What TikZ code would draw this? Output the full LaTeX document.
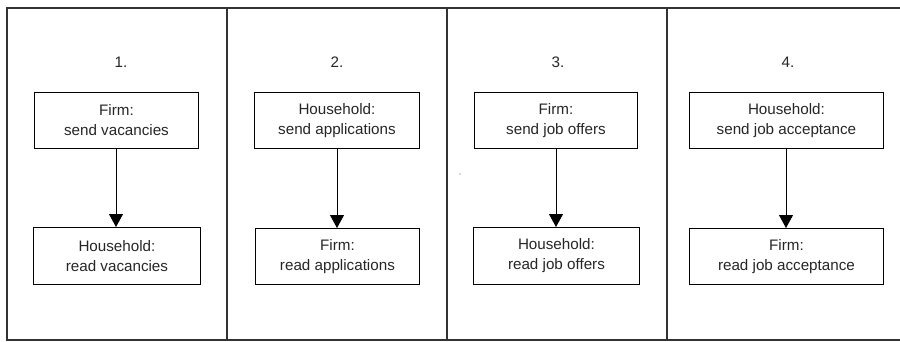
\documentclass[tikz,border=0pt]{standalone}
\usepackage{fontspec}
\setmainfont{Liberation Sans}
\usetikzlibrary{arrows.meta}
\begin{document}
\begin{tikzpicture}[x=1pt,y=-1pt,
  frame/.style={draw=black!80,line width=1.1pt},
  stepbox/.style={draw=black,line width=0.9pt,rectangle,inner sep=0pt,align=center,
    font=\fontsize{15.2}{20}\selectfont,text=black!85,anchor=north west},
  numlabel/.style={font=\fontsize{15.2}{18}\selectfont,text=black!85},
  flow/.style={draw=black,line width=0.9pt,-{Triangle[length=13pt,width=14pt]}}]
\useasboundingbox (0,0) rectangle (900,341);
\begin{scope}
\clip (0,0) rectangle (900,341);
\draw[frame] (7,8) rectangle (910,340);
\end{scope}
\draw[frame] (227,8) -- (227,340);
\draw[frame] (447,8) -- (447,340);
\draw[frame] (667,8) -- (667,340);
% labels
\node[numlabel] (n1) at (121,62) {1.};
\node[numlabel] (n2) at (337,62) {2.};
\node[numlabel] (n3) at (558,62) {3.};
\node[numlabel] (n4) at (788,62) {4.};
% panel 1
\node[stepbox,minimum width=164pt,minimum height=56pt] (a1) at (34,92) {Firm:\\send vacancies};
\node[stepbox,minimum width=167pt,minimum height=57pt] (b1) at (33,227) {Household:\\read vacancies};
% panel 2
\node[stepbox,minimum width=165pt,minimum height=56pt] (a2) at (254,92) {Household:\\send applications};
\node[stepbox,minimum width=164pt,minimum height=56pt] (b2) at (255,228) {Firm:\\read applications};
% panel 3
\node[stepbox,minimum width=163pt,minimum height=56pt] (a3) at (474,92) {Firm:\\send job offers};
\node[stepbox,minimum width=166pt,minimum height=57pt] (b3) at (473,227) {Household:\\read job offers};
% panel 4
\node[stepbox,minimum width=194pt,minimum height=56pt] (a4) at (689,92) {Household:\\send job acceptance};
\node[stepbox,minimum width=194pt,minimum height=56pt] (b4) at (689,228) {Firm:\\read job acceptance};
% arrows
\coordinate (s1) at (116,148); \coordinate (e1) at (116,227);
\coordinate (s2) at (337,148); \coordinate (e2) at (337,228);
\coordinate (s3) at (556,148); \coordinate (e3) at (556,227);
\coordinate (s4) at (786,148); \coordinate (e4) at (786,228);
\draw[flow] (a1.south -| s1) -- (b1.north -| e1);
\draw[flow] (a2.south -| s2) -- (b2.north -| e2);
\draw[flow] (a3.south -| s3) -- (b3.north -| e3);
\draw[flow] (a4.south -| s4) -- (b4.north -| e4);
% stray dot
\fill[black!70] (460,174) circle (0.6pt);
\end{tikzpicture}
\end{document}
